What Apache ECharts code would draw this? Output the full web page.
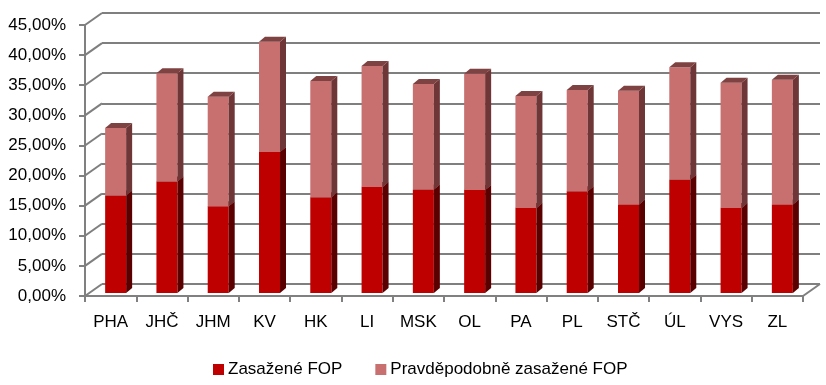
<!DOCTYPE html>
<html>
<head>
<meta charset="utf-8">
<script src="https://cdn.jsdelivr.net/npm/echarts@6/dist/echarts.min.js"></script>
<style>html,body{margin:0;padding:0;background:#fff}#c{width:826px;height:385px}</style>
</head>
<body>
<div id="c"></div>
<script>
const categories = ['PHA','JHČ','JHM','KV','HK','LI','MSK','OL','PA','PL','STČ','ÚL','VYS','ZL'];
const zasazene = [16.2,18.5,14.4,23.4,15.9,17.6,17.2,17.1,14.1,16.9,14.7,18.8,14.1,14.7];
const pravdepodobne = [11.2,18.0,18.2,18.3,19.3,20.1,17.5,19.3,18.6,16.8,18.9,18.7,20.8,20.7];
const yTicks = [0,5,10,15,20,25,30,35,40,45];
const seriesNames = ['Zasažené FOP','Pravděpodobně zasažené FOP'];

const FONT = 'Liberation Sans';
const DEPTH_X = 17, DEPTH_Y = 12;

function makeBarRender(front, side, top) {
  return function (params, api) {
    const i = api.value(0), lo = api.value(1), hi = api.value(2);
    const pLo = api.coord([i, lo]), pHi = api.coord([i, hi]);
    const w = 21, sx = 5, sy = -3, dx = 6, dy = 5;
    const xL = pLo[0] + sx - w / 2, xR = xL + w;
    const yB = pLo[1] + sy, yT = pHi[1] + sy;
    return {
      type: 'group',
      children: [
        {type: 'rect', shape: {x: xL, y: yT, width: w, height: yB - yT}, style: {fill: front}},
        {type: 'polygon', shape: {points: [[xR, yB], [xR + dx, yB - dy], [xR + dx, yT - dy], [xR, yT]]}, style: {fill: side}},
        {type: 'polygon', shape: {points: [[xL, yT], [xL + dx, yT - dy], [xR + dx, yT - dy], [xR, yT]]}, style: {fill: top}}
      ]
    };
  };
}

const chart = echarts.init(document.getElementById('c'), null, {renderer: 'canvas'});
chart.setOption({
  animation: false,
  backgroundColor: '#fff',
  textStyle: {fontFamily: FONT},
  grid: [
    {left: 85, right: 23, top: 25, bottom: 89},
    {left: 102, right: 6, top: 13, bottom: 101}
  ],
  xAxis: [
    {type: 'category', gridIndex: 0, data: categories,
      axisLine: {lineStyle: {color: '#808080', width: 2}},
      axisTick: {show: true, length: 6, lineStyle: {color: '#808080', width: 2}},
      axisLabel: {color: '#000', fontSize: 17, fontFamily: FONT, margin: 18}},
    {type: 'category', gridIndex: 1, data: categories, show: false}
  ],
  yAxis: [
    {type: 'value', gridIndex: 0, min: 0, max: 45, interval: 5,
      axisLine: {show: true, lineStyle: {color: '#808080', width: 2}},
      axisTick: {show: true, length: 6, lineStyle: {color: '#808080', width: 2}},
      splitLine: {show: false},
      axisLabel: {color: '#000', fontSize: 17, fontFamily: FONT, margin: 19,
        formatter: v => v.toFixed(2).replace('.', ',') + '%'}},
    {type: 'value', gridIndex: 1, min: 0, max: 45, interval: 5,
      axisLine: {show: false}, axisTick: {show: false}, axisLabel: {show: false},
      splitLine: {show: true, lineStyle: {color: '#7f7f7f', width: 2}}}
  ],
  legend: {
    left: 213, top: 361, padding: 0, icon: 'rect', itemWidth: 11, itemHeight: 11, itemGap: 33,
    textStyle: {color: '#000', fontSize: 17, fontFamily: FONT, padding: [0, 0, 0, -1]},
    data: seriesNames
  },
  series: [
    {
      type: 'custom', xAxisIndex: 0, yAxisIndex: 0, silent: true,
      data: yTicks.map(v => [v]),
      renderItem: function (params, api) {
        const v = api.value(0);
        const y = api.coord([0, v])[1];
        const x0 = params.coordSys.x;
        const kids = [{type: 'line', shape: {x1: x0, y1: y, x2: x0 + DEPTH_X, y2: y - DEPTH_Y},
          style: {stroke: '#7f7f7f', lineWidth: 2}}];
        if (v === 0) {
          const x1 = params.coordSys.x + params.coordSys.width;
          kids.push({type: 'line', shape: {x1: x1, y1: y, x2: x1 + DEPTH_X, y2: y - DEPTH_Y},
            style: {stroke: '#7f7f7f', lineWidth: 2}});
        }
        return {type: 'group', children: kids};
      },
      encode: {y: 0}
    },
    {
      name: seriesNames[0], type: 'custom', xAxisIndex: 0, yAxisIndex: 0,
      itemStyle: {color: '#BE0000'},
      data: zasazene.map((v, i) => [i, 0, v]),
      encode: {x: 0, y: [1, 2]},
      renderItem: makeBarRender('#BE0000', '#5A0000', '#7A1010')
    },
    {
      name: seriesNames[1], type: 'custom', xAxisIndex: 0, yAxisIndex: 0,
      itemStyle: {color: '#C87070'},
      data: pravdepodobne.map((v, i) => [i, zasazene[i], zasazene[i] + v]),
      encode: {x: 0, y: [1, 2]},
      renderItem: makeBarRender('#C87070', '#6E3636', '#7E4242')
    }
  ]
});
</script>
</body>
</html>
